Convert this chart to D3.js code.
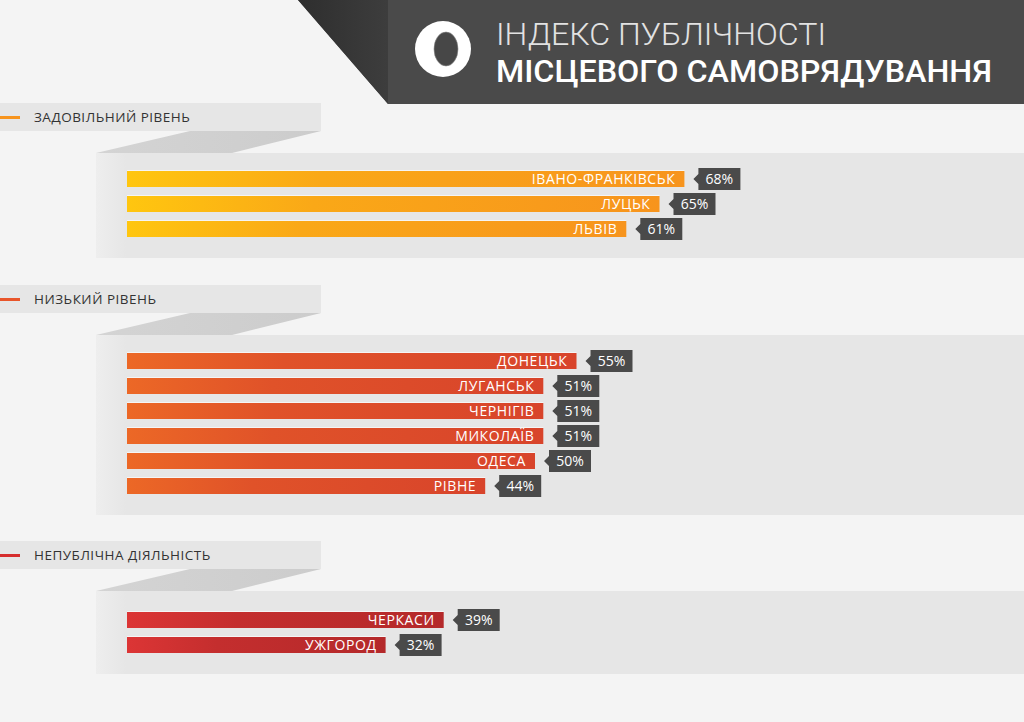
<!doctype html>
<html>
<head>
<meta charset="UTF-8">
<title>Індекс публічності місцевого самоврядування</title>
<style>
  html, body { margin: 0; padding: 0; background: #f4f4f4; }
  svg { display: block; }
</style>
</head>
<body>
<div id="chart"></div>
<script src="https://cdn.jsdelivr.net/npm/d3@7"></script>
<script>
// data
var groups = ["ЗАДОВІЛЬНИЙ РІВЕНЬ", "НИЗЬКИЙ РІВЕНЬ", "НЕПУБЛІЧНА ДІЯЛЬНІСТЬ"];
var cities = ["ІВАНО-ФРАНКІВСЬК", "ЛУЦЬК", "ЛЬВІВ",
              "ДОНЕЦЬК", "ЛУГАНСЬК", "ЧЕРНІГІВ", "МИКОЛАЇВ", "ОДЕСА", "РІВНЕ",
              "ЧЕРКАСИ", "УЖГОРОД"];
var values = [68, 65, 61, 55, 51, 51, 51, 50, 44, 39, 32];
var cityGroup = [0, 0, 0, 1, 1, 1, 1, 1, 1, 2, 2];
var titleLines = ["ІНДЕКС ПУБЛІЧНОСТІ", "МІСЦЕВОГО САМОВРЯДУВАННЯ"];

var W = 1024, H = 722;
var barColors = [["#ffc60f", "#f7941d"], ["#ec6826", "#d8442b"], ["#dc3535", "#b4292a"]];
var dashColors = ["#f7941d", "#e8552a", "#d62e2e"];
var font = "'Open Sans', sans-serif";

var svg = d3.select("#chart").append("svg")
  .attr("width", W)
  .attr("height", H);

var defs = svg.append("defs");
barColors.forEach(function(c, i) {
  var g = defs.append("linearGradient").attr("id", "bar" + i)
    .attr("x1", "0%").attr("x2", "100%").attr("y1", "0%").attr("y2", "0%");
  g.append("stop").attr("offset", "0%").attr("stop-color", c[0]);
  g.append("stop").attr("offset", "35%").attr("stop-color", d3.interpolateRgb(c[0], c[1])(0.6));
  g.append("stop").attr("offset", "100%").attr("stop-color", c[1]);
});
var fg = defs.append("linearGradient").attr("id", "fold")
  .attr("x1", "0%").attr("x2", "100%").attr("y1", "0%").attr("y2", "0%");
fg.append("stop").attr("offset", "0%").attr("stop-color", "#d4d4d4");
fg.append("stop").attr("offset", "100%").attr("stop-color", "#cccccc");
var pg = defs.append("linearGradient").attr("id", "panelEdge")
  .attr("x1", "0%").attr("x2", "100%").attr("y1", "0%").attr("y2", "0%");
pg.append("stop").attr("offset", "0%").attr("stop-color", "#eeeeee");
pg.append("stop").attr("offset", "100%").attr("stop-color", "#e6e6e6");
var hg = defs.append("linearGradient").attr("id", "headTri")
  .attr("x1", "0%").attr("x2", "100%").attr("y1", "0%").attr("y2", "0%");
hg.append("stop").attr("offset", "0%").attr("stop-color", "#2e2e2e");
hg.append("stop").attr("offset", "100%").attr("stop-color", "#3d3d3d");

// header
svg.append("polygon")
  .attr("points", [[298, 0], [W, 0], [W, 104], [388, 104]].join(" "))
  .attr("fill", "#4a4a4a");
svg.append("polygon")
  .attr("points", [[298, 0], [388, 0], [388, 104]].join(" "))
  .attr("fill", "url(#headTri)");
svg.append("circle").attr("cx", 443).attr("cy", 49).attr("r", 28).attr("fill", "#ffffff");
svg.append("ellipse").attr("cx", 446).attr("cy", 49).attr("rx", 12).attr("ry", 17)
  .attr("fill", "#474747").attr("stroke", "#888").attr("stroke-width", 0.6);

var t1 = svg.append("text").attr("x", 496).attr("y", 45)
  .attr("font-family", "Roboto, sans-serif").attr("font-weight", 300)
  .attr("font-size", 31).attr("fill", "#e2e2e2").text(titleLines[0]);
var t2 = svg.append("text").attr("x", 496).attr("y", 82)
  .attr("font-family", "Roboto, sans-serif").attr("font-weight", 500)
  .attr("font-size", 31).attr("fill", "#ffffff").text(titleLines[1]);
t1.attr("textLength", 330).attr("lengthAdjust", "spacingAndGlyphs");
t2.attr("textLength", 496).attr("lengthAdjust", "spacingAndGlyphs");

// scales
var x = d3.scaleLinear().domain([0, 100]).range([120, 950]);
var barLeft = 127, barH = 16, pitch = 25;

var tabTop = 103;
groups.forEach(function(name, gi) {
  var idx = d3.range(cities.length).filter(function(i) { return cityGroup[i] === gi; });
  var tabBottom = tabTop + 28;
  var panelTop = tabTop + 50;
  var firstRow = panelTop + (gi === 2 ? 29 : 26);
  var panelBottom = firstRow + (idx.length - 1) * pitch + 29;
  var y = d3.scaleBand()
    .domain(idx)
    .range([firstRow - pitch / 2, firstRow - pitch / 2 + idx.length * pitch]);

  var g = svg.append("g");

  // panel
  g.append("rect").attr("x", 96).attr("y", panelTop)
    .attr("width", W - 96).attr("height", panelBottom - panelTop).attr("fill", "#e6e6e6");
  g.append("rect").attr("x", 96).attr("y", panelTop)
    .attr("width", 30).attr("height", panelBottom - panelTop).attr("fill", "url(#panelEdge)");

  // fold
  g.append("polygon")
    .attr("points", [[96, panelTop], [232, panelTop], [321, tabBottom], [190, tabBottom]].join(" "))
    .attr("fill", "url(#fold)");

  // tab
  g.append("rect").attr("x", 0).attr("y", tabTop).attr("width", 321).attr("height", 28)
    .attr("fill", "#e6e6e6");
  g.append("rect").attr("x", 0).attr("y", tabTop + 13).attr("width", 20).attr("height", 3)
    .attr("fill", dashColors[gi]);
  g.append("text").attr("x", 34).attr("y", tabTop + 14).attr("dy", "0.36em")
    .attr("font-family", font).attr("font-size", 13.5).attr("letter-spacing", 0.5)
    .attr("fill", "#333").text(name);

  // bars
  var rows = g.selectAll("g.row").data(idx).enter().append("g").attr("class", "row");
  rows.append("rect")
    .attr("x", barLeft)
    .attr("y", function(i) { return y(i) + (y.bandwidth() - barH) / 2; })
    .attr("width", function(i) { return x(values[i]) - barLeft; })
    .attr("height", barH)
    .attr("fill", "url(#bar" + gi + ")");
  rows.append("rect")
    .attr("x", barLeft)
    .attr("y", function(i) { return y(i) + (y.bandwidth() - barH) / 2 - 1; })
    .attr("width", function(i) { return x(values[i]) - barLeft; })
    .attr("height", 1)
    .attr("fill", "#ffffff").attr("opacity", 0.6);
  rows.append("text")
    .attr("x", function(i) { return x(values[i]) - 9; })
    .attr("y", function(i) { return y(i) + y.bandwidth() / 2; })
    .attr("dy", "0.36em")
    .attr("text-anchor", "end")
    .attr("font-family", font).attr("font-size", 14).attr("font-weight", 500)
    .attr("letter-spacing", 0.6)
    .attr("fill", "#ffffff").text(function(i) { return cities[i]; });

  // value tags
  rows.append("polygon")
    .attr("points", function(i) {
      var tx = x(values[i]) + 9, cy = y(i) + y.bandwidth() / 2;
      return [[tx, cy], [tx + 5, cy - 5], [tx + 5, cy - 11], [tx + 47, cy - 11],
              [tx + 47, cy + 11], [tx + 5, cy + 11], [tx + 5, cy + 5]].join(" ");
    })
    .attr("fill", "#4a4a4a");
  rows.append("text")
    .attr("x", function(i) { return x(values[i]) + 35; })
    .attr("y", function(i) { return y(i) + y.bandwidth() / 2; })
    .attr("dy", "0.36em")
    .attr("text-anchor", "middle")
    .attr("font-family", font).attr("font-size", 14)
    .attr("fill", "#ffffff").text(function(i) { return values[i] + "%"; });

  tabTop = panelBottom + (gi === 0 ? 27 : 26);
});
</script>
</body>
</html>
